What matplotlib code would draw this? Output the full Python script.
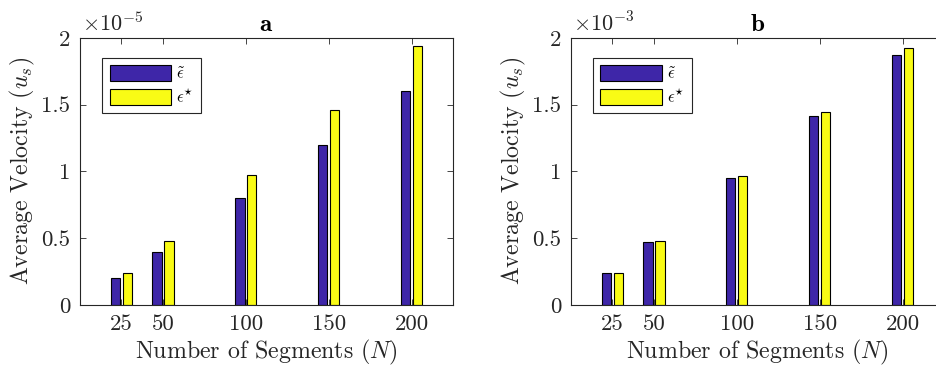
import matplotlib
matplotlib.use("Agg")
import matplotlib.pyplot as plt
from matplotlib.ticker import FuncFormatter

plt.rcParams["font.family"] = "serif"
plt.rcParams["font.serif"] = ["cmr10"]
plt.rcParams["mathtext.fontset"] = "cm"
plt.rcParams["axes.unicode_minus"] = False

segments = [25, 50, 100, 150, 200]

# panel a (x 1e-5)
eps_tilde_a = [0.20e-5, 0.40e-5, 0.80e-5, 1.20e-5, 1.60e-5]
eps_star_a = [0.24e-5, 0.48e-5, 0.97e-5, 1.46e-5, 1.94e-5]

# panel b (x 1e-3)
eps_tilde_b = [0.236e-3, 0.472e-3, 0.948e-3, 1.414e-3, 1.872e-3]
eps_star_b = [0.241e-3, 0.481e-3, 0.963e-3, 1.442e-3, 1.922e-3]

yticks = [0, 0.5, 1, 1.5, 2]

blue = "#3e26a8"
yellow = "#f9fb15"
dark = "#262626"


def draw_panel(ax, tilde, star, power, title):
    scale = 10.0 ** power
    off = 3.6
    w = 5.7
    ax.bar([s - off for s in segments], tilde, width=w, color=blue,
           edgecolor="black", linewidth=0.8, label=r"$\tilde{\epsilon}$")
    ax.bar([s + off for s in segments], star, width=w, color=yellow,
           edgecolor="black", linewidth=0.8, label=r"$\epsilon^{\star}$")
    ax.set_xlim(0, 225)
    ax.set_ylim(0, 2 / scale)
    ax.set_xticks(segments)
    ax.set_yticks([t / scale for t in yticks])
    ax.yaxis.set_major_formatter(FuncFormatter(lambda v, _: f"{v * scale:g}"))
    ax.tick_params(direction="in", top=True, right=True, labelsize=16.5,
                   colors=dark, length=4, width=0.6, pad=7)
    for sp in ax.spines.values():
        sp.set_color(dark)
        sp.set_linewidth(0.8)
    ax.text(0.005, 1.01, r"$\times 10^{-%d}$" % power, transform=ax.transAxes,
            fontsize=16, color=dark, ha="left", va="bottom")
    ax.set_title(r"$\mathbf{%s}$" % title, fontsize=18, pad=5)
    ax.set_xlabel(r"Number of Segments $(N)$", fontsize=17.2, color=dark, labelpad=3)
    ax.set_ylabel(r"Average Velocity $(u_s)$", fontsize=17.2, color=dark, labelpad=3)
    leg = ax.legend(loc="upper left", bbox_to_anchor=(0.059, 0.925),
                    borderaxespad=0, fontsize=12, handlelength=3.7,
                    handleheight=1.1, handletextpad=0.3, labelspacing=0.35,
                    fancybox=False, framealpha=1, edgecolor=dark,
                    borderpad=0.45)
    leg.get_frame().set_linewidth(0.8)


fig = plt.figure(figsize=(9.36, 3.67), dpi=100)
ax_a = fig.add_axes([0.0855, 0.169, 0.3985, 0.728])
ax_b = fig.add_axes([0.610, 0.169, 0.3985, 0.728])

draw_panel(ax_a, eps_tilde_a, eps_star_a, 5, "a")
draw_panel(ax_b, eps_tilde_b, eps_star_b, 3, "b")

fig.savefig("out.png", dpi=100)
